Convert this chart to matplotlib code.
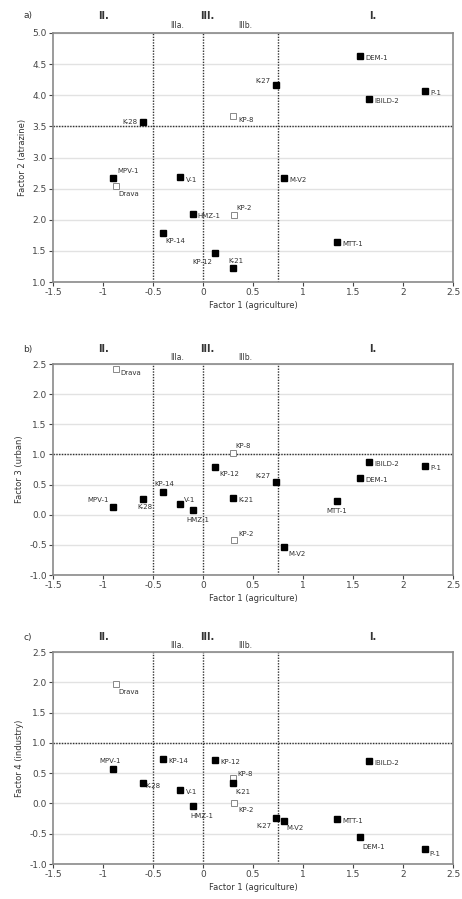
import matplotlib.pyplot as plt

sites = ["DEM-1", "K-27", "P-1", "IBILD-2", "KP-8", "K-28", "MPV-1", "Drava",
         "V-1", "HMZ-1", "KP-2", "KP-14", "KP-12", "K-21", "M-V2", "MTT-1"]
open_sites = ["KP-8", "Drava", "KP-2"]

factor1 = [1.57, 0.73, 2.22, 1.66, 0.30, -0.60, -0.90, -0.87,
           -0.23, -0.10, 0.31, -0.40, 0.12, 0.30, 0.81, 1.34]
factor2 = [4.63, 4.16, 4.07, 3.94, 3.67, 3.57, 2.67, 2.54,
           2.68, 2.09, 2.07, 1.79, 1.46, 1.23, 2.67, 1.64]
factor3 = [0.61, 0.55, 0.81, 0.87, 1.02, 0.26, 0.13, 2.42,
           0.17, 0.07, -0.42, 0.37, 0.79, 0.28, -0.53, 0.22]
factor4 = [-0.56, -0.24, -0.76, 0.70, 0.42, 0.34, 0.57, 1.97,
           0.22, -0.05, 0.00, 0.73, 0.72, 0.33, -0.29, -0.26]

ylabels = ["Factor 2 (atrazine)", "Factor 3 (urban)", "Factor 4 (industry)"]
panel_tags = ["a)", "b)", "c)"]
hlines = [3.5, 1.0, 1.0]
ylims = [(1.0, 5.0), (-1.0, 2.5), (-1.0, 2.5)]
vlines = [-0.5, 0, 0.75]

# label offsets (points) and alignment per panel
R = (4, -1.5, "left")
offs_a = {"DEM-1": R, "K-27": (-4, 3, "right"), "P-1": R, "IBILD-2": R,
          "KP-8": (4, -3, "left"), "K-28": (-4, 0, "right"), "MPV-1": (3, 5, "left"),
          "Drava": (2, -6, "left"), "V-1": R, "HMZ-1": (3, -1.5, "left"),
          "KP-2": (2, 5, "left"), "KP-14": (2, -6, "left"), "KP-12": (-2, -6, "right"),
          "K-21": (-3, 5, "left"), "M-V2": R, "MTT-1": R}
offs_b = {"DEM-1": R, "K-27": (-4, 4, "right"), "P-1": R, "IBILD-2": R,
          "KP-8": (2, 5, "left"), "K-28": (-4, -6, "left"), "MPV-1": (-3, 5, "right"),
          "Drava": (3, -3, "left"), "V-1": (3, 3, "left"), "HMZ-1": (-5, -7, "left"),
          "KP-2": (3, 4, "left"), "KP-14": (-6, 6, "left"), "KP-12": (3, -5, "left"),
          "K-21": R, "M-V2": (3, -5, "left"), "MTT-1": (-8, -7, "left")}
offs_c = {"DEM-1": (2, -7, "left"), "K-27": (-3, -6, "right"), "P-1": (3, -3, "left"),
          "IBILD-2": R, "KP-8": (3, 3, "left"), "K-28": (2, -2, "left"),
          "MPV-1": (-10, 6, "left"), "Drava": (2, -6, "left"), "V-1": R,
          "HMZ-1": (-2, -7, "left"), "KP-2": (3, -5, "left"), "KP-14": R,
          "KP-12": R, "K-21": (2, -6, "left"), "M-V2": (2, -5, "left"), "MTT-1": R}

fig = plt.figure(figsize=(4.62, 8.99), dpi=100)
plt.rcParams['font.family'] = ['DejaVu Sans']

boxes = [[0.1147, 0.6863, 0.866, 0.277],
         [0.1147, 0.3604, 0.866, 0.2347],
         [0.1147, 0.0389, 0.866, 0.2358]]
ydata = [factor2, factor3, factor4]
offsets = [offs_a, offs_b, offs_c]

for i in range(3):
    ax = fig.add_axes(boxes[i])
    ys = ydata[i]
    ax.set_xlim(-1.5, 2.5)
    ax.set_ylim(*ylims[i])
    ax.set_xticks([-1.5, -1, -0.5, 0, 0.5, 1, 1.5, 2, 2.5])
    ax.set_xticklabels(["-1.5", "-1", "-0.5", "0", "0.5", "1", "1.5", "2", "2.5"])
    lo, hi = ylims[i]
    yt = [lo + 0.5 * k for k in range(int((hi - lo) / 0.5) + 1)]
    ax.set_yticks(yt)
    ax.set_yticklabels(["%.1f" % v for v in yt])
    ax.grid(axis="y", color="#e2e2e2", linewidth=1.0)
    ax.set_axisbelow(True)
    for s in ax.spines.values():
        s.set_color("#8a8a8a")
        s.set_linewidth(1.2)
    ax.tick_params(labelsize=6.5, colors="#444444", length=3, width=0.8, pad=1.5)

    for v in vlines:
        ax.axvline(v, color="#333333", linestyle=(0, (1, 1)), linewidth=1.0)
    ax.axhline(hlines[i], color="#333333", linestyle=(0, (1, 1)), linewidth=1.0)

    for name, x, y in zip(sites, factor1, ys):
        if name in open_sites:
            ax.plot(x, y, "s", markersize=4.5, markerfacecolor="white",
                    markeredgecolor="#888888", markeredgewidth=0.7, zorder=4)
        else:
            ax.plot(x, y, "s", markersize=4.5, color="black", zorder=4)
        dx, dy, ha = offsets[i][name]
        ax.annotate(name, (x, y), xytext=(dx, dy), textcoords="offset points",
                    ha=ha, va="center", fontsize=5, color="#333333")

    ax.set_ylabel(ylabels[i], fontsize=6, color="#333333", labelpad=4)
    ax.set_xlabel("Factor 1 (agriculture)", fontsize=6, color="#333333", labelpad=3)

    # panel tag and zone headers above the axes
    ax.text(-0.063, 1.07, panel_tags[i], transform=ax.transAxes,
            fontsize=6.5, color="#333333", ha="center", va="center")
    for txt, xx, yy, fs in [("II.", -1.0, 1.07, 7), ("III.", 0.04, 1.07, 7),
                            ("I.", 1.7, 1.07, 7), ("IIIa.", -0.26, 1.03, 5.5),
                            ("IIIb.", 0.42, 1.03, 5.5)]:
        ax.text(xx, yy, txt, transform=ax.get_xaxis_transform(), fontsize=fs,
                fontweight="bold" if fs > 6 else "normal", color="#333333",
                ha="center", va="center", clip_on=False)

fig.savefig("out.png", dpi=100)
